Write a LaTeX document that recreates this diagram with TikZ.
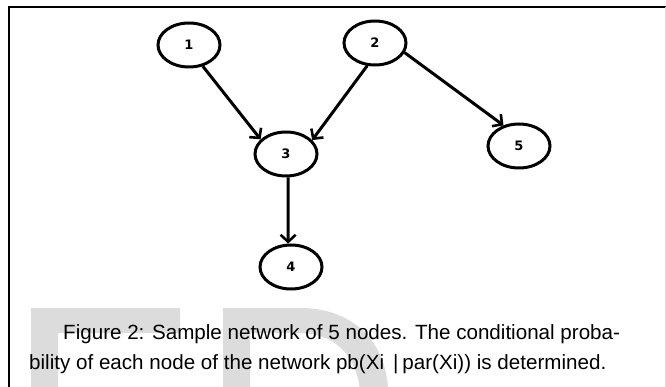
\documentclass[tikz,border=0pt]{standalone}
\usepackage{fontspec}
\setmainfont{Liberation Sans}
\newfontfamily\labelfont{DejaVu Sans}
\usetikzlibrary{arrows.meta,shapes.geometric}
\definecolor{wmgray}{HTML}{DCDCDC}
\tikzset{
  bnode/.style={ellipse, draw=black, line width=3pt, minimum width=62pt,
    minimum height=44pt, inner sep=0pt, font=\labelfont\bfseries\fontsize{13}{15}\selectfont},
  edge/.style={line width=3pt, -{Straight Barb[length=7pt,width=15pt,line width=2.6pt]}},
  captionline/.style={anchor=base west, inner sep=0pt, font=\fontsize{20.6}{24}\selectfont}
}
\begin{document}
\begin{tikzpicture}[x=1pt,y=-1pt]
\useasboundingbox (0,0) rectangle (666,387);
\fill[white] (0,0) rectangle (666,387);
% faint background lettering
\begin{scope}
\clip (0,0) rectangle (666,387);
\fill[wmgray] (31,308) -- (180,308) -- (180,333) -- (58,333) -- (58,390) -- (31,390) -- cycle;
\fill[wmgray] (223,308) -- (300,308) .. controls (360,308) and (387,350) .. (388,390)
  -- (360,390) .. controls (356,355) and (335,333) .. (298,333) -- (250,333) -- (250,390)
  -- (223,390) -- cycle;
\end{scope}
% frame
\draw[line width=2pt] (9,390) -- (9,7) -- (667,7);
\draw[gray!30, line width=0.8pt] (665,7) -- (665,390);
% network
\node[bnode] (n1) at (189,45) {1};
\node[bnode] (n2) at (375,43) {2};
\node[bnode] (n3) at (286,154) {3};
\node[bnode] (n4) at (291,267) {4};
\node[bnode] (n5) at (519,146) {5};
\draw[edge] (n1.-57) -- (n3.150);
\draw[edge] (n2.-109) -- (n3.28);
\draw[edge] (n2.-18) -- (n5.127);
\draw[edge] (n3.-85) -- (n4.97);
% caption
\node[captionline] (c1) at (63,339) {Figure 2: Sample network of 5 nodes. The conditional proba-};
\node[captionline] (c2) at (29,369) {bility of each node of the network pb(Xi\hspace{9pt}|\hspace{4pt}par(Xi)) is determined.};
\end{tikzpicture}
\end{document}
